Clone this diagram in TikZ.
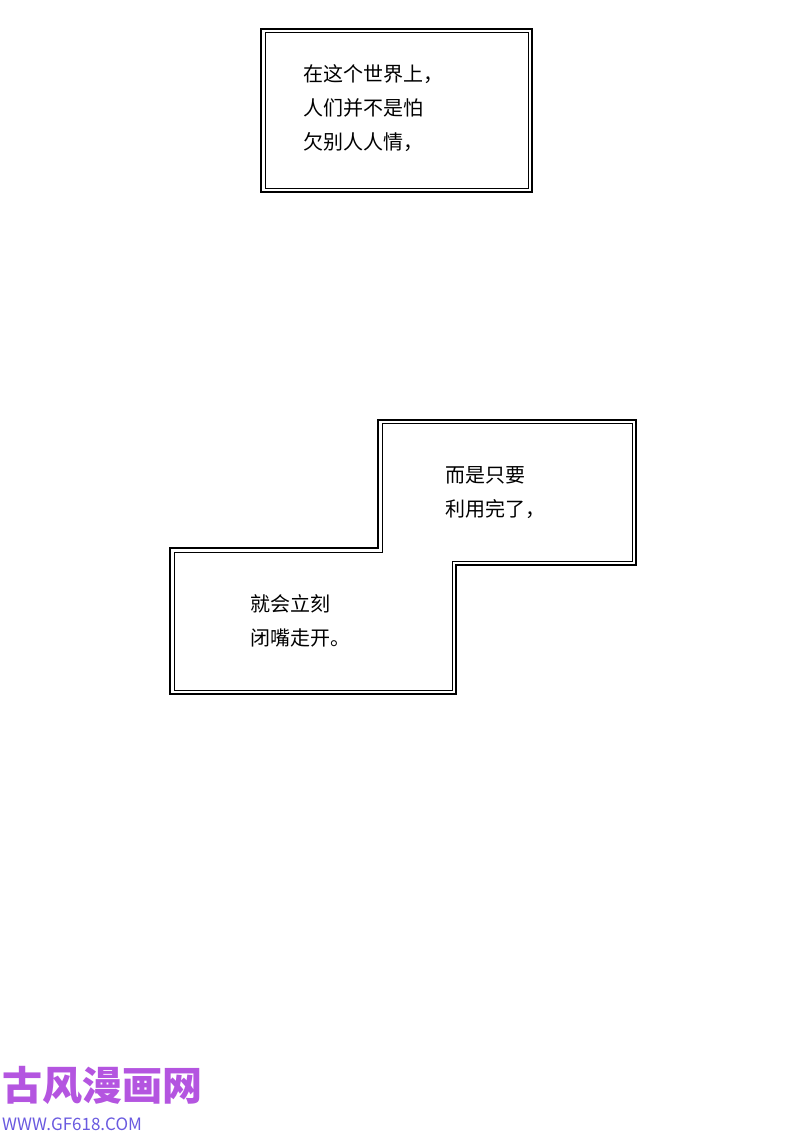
\documentclass[tikz,border=0pt]{standalone}
\usepackage{fontspec}
\newfontfamily\cjk{Noto Sans CJK SC}
\definecolor{wm}{HTML}{B455E0}
\definecolor{wmb}{HTML}{6A5AE0}
\begin{document}
\begin{tikzpicture}[x=1pt,y=-1pt,
  frame/.style={draw=black,line width=2.4pt,line join=miter},
  frame2/.style={draw=black,line width=0.8pt},
  txt/.style={font=\cjk\fontsize{20}{34}\selectfont,anchor=north west,align=left,inner sep=0}]
\useasboundingbox (0,0) rectangle (800,1136);
\fill[white] (0,0) rectangle (800,1136);
\draw[frame] (261,29) rectangle (532,192);
\draw[frame2] (265,32) rectangle (528,188);
\node[txt] (t1) at (303,64) {在这个世界上，\\人们并不是怕\\欠别人人情，};
\draw[frame] (378,420) -- (636,420) -- (636,565) -- (456,565) -- (456,694) -- (170,694) -- (170,548) -- (378,548) -- cycle;
\draw[frame2] (382,423) -- (632,423) -- (632,561) -- (452,561) -- (452,690) -- (174,690) -- (174,552) -- (382,552) -- cycle;
\node[txt] (t2) at (445,466) {而是只要\\利用完了，};
\node[txt] (t3) at (250,594) {就会立刻\\闭嘴走开。};
\node[font=\cjk\bfseries\fontsize{40}{40}\selectfont,text=wm,anchor=west,inner sep=0] (w1) at (2,1085) {古风漫画网};
\node[font=\cjk\fontsize{17}{17}\selectfont,text=wmb,anchor=west,inner sep=0] (w2) at (2,1124) {WWW.GF618.COM};
\end{tikzpicture}
\end{document}
